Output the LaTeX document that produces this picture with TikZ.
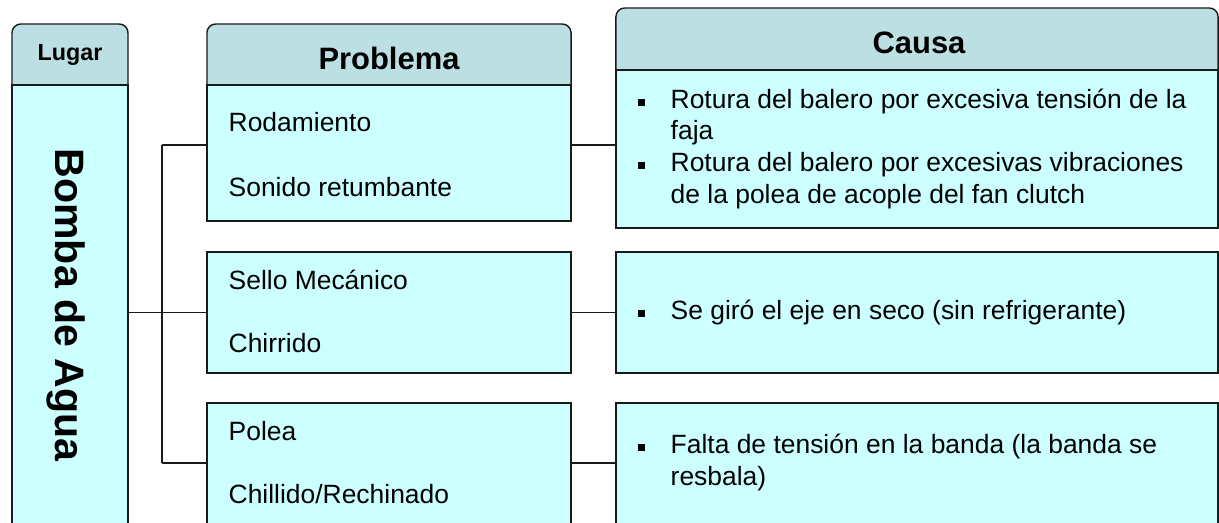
\documentclass[tikz,border=0pt]{standalone}
\usepackage{fontspec}
\setmainfont{Liberation Sans}
\usetikzlibrary{positioning}
\definecolor{hdrcyan}{HTML}{BBDFE2}
\definecolor{bodycyan}{HTML}{CCFFFF}
\definecolor{edge}{HTML}{1A1A1A}
\newcommand{\sqbullet}{\makebox[23.1pt][l]{\rule[2.4pt]{5pt}{5pt}}}

\begin{document}
\begin{tikzpicture}
[x=0.025cm, y=-0.025cm, line width=1pt,
head/.style={rectangle, draw=edge, fill=hdrcyan, rounded corners=0.22cm, inner sep=0pt},
body/.style={rectangle, draw=edge, fill=bodycyan, inner sep=0pt},
link/.style={draw=edge, line width=1pt},
title/.style={anchor=base, inner sep=0pt, font=\bfseries\fontsize{22}{26}\selectfont},
item/.style={anchor=base west, inner sep=0pt, font=\fontsize{18.8}{22.5}\selectfont}]

\useasboundingbox (0,0) rectangle (1219,523);

\node[head, minimum width=2.9cm, minimum height=1.9cm] (lugh) at (70,62) {};
\node[head, minimum width=9.1cm, minimum height=1.9cm] (prbh) at (389,62) {};
\node[head, minimum width=15.05cm, minimum height=1.925cm] (cauh) at (917,46.5) {};

\node[body, minimum width=2.9cm, minimum height=11.375cm] (lug) at (70,312.5) {};

\node[body, minimum width=9.1cm, minimum height=3.4cm] (prb1) at (389,153) {};
\node[body, minimum width=9.1cm, minimum height=3.025cm] (prb2) at (389,312.5) {};
\node[body, minimum width=9.1cm, minimum height=3.425cm] (prb3) at (389,471.5) {};

\node[body, minimum width=15.05cm, minimum height=3.95cm] (cau1) at (917,149) {};
\node[body, minimum width=15.05cm, minimum height=3.025cm] (cau2) at (917,312.5) {};
\node[body, minimum width=15.05cm, minimum height=3.425cm] (cau3) at (917,471.5) {};

\coordinate (fork1) at (162,145);
\coordinate (fork3) at (162,463);

\draw[link] (lug.east |- prb2.west) -- (prb2.west);
\draw[link] (fork1) -- (fork3);
\draw[link] (fork1) -- (prb1.west |- fork1);
\draw[link] (fork3) -- (prb3.west |- fork3);
\draw[link] (prb1.east |- fork1) -- (cau1.west |- fork1);
\draw[link] (prb2.east) -- (cau2.west);
\draw[link] (prb3.east |- fork3) -- (cau3.west |- fork3);

\node[title, font=\bfseries\fontsize{16.6}{20}\selectfont] (lugar) at (70,61) {Lugar};
\node[title] (problema) at (389,70) {Problema};
\node[title] (causa) at (919,54) {Causa};
\node[title, rotate=-90, font=\bfseries\fontsize{29.2}{34}\selectfont] (bomba) at (55,305) {Bomba de Agua};

\node[item] (p1a) at (228,132) {Rodamiento};
\node[item] (p1b) at (228,197) {Sonido retumbante};
\node[item] (p2a) at (228,290) {Sello Mecánico};
\node[item] (p2b) at (228,353) {Chirrido};
\node[item] (p3a) at (228,441) {Polea};
\node[item] (p3b) at (228,504) {Chillido/Rechinado};

\node[item] (c1a) at (637.5,109) {\sqbullet Rotura del balero por excesiva tensión de la};
\node[item] (c1b) at (670,140) {faja};
\node[item] (c1c) at (637.5,172) {\sqbullet Rotura del balero por excesivas vibraciones};
\node[item] (c1d) at (670,204) {de la polea de acople del fan clutch};
\node[item] (c2a) at (637.5,320) {\sqbullet Se giró el eje en seco (sin refrigerante)};
\node[item] (c3a) at (637.5,454) {\sqbullet Falta de tensión en la banda (la banda se};
\node[item] (c3b) at (670,486) {resbala)};
\end{tikzpicture}
\end{document}
